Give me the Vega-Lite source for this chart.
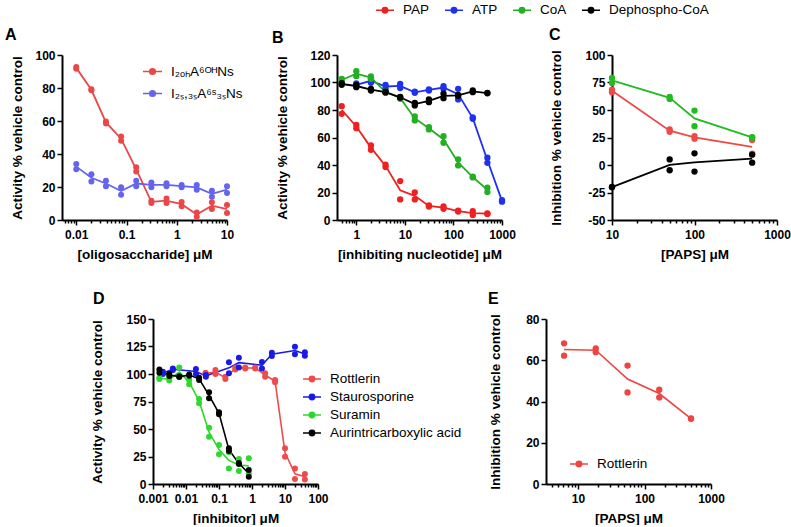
{
  "$schema": "https://vega.github.io/schema/vega-lite/v6.json",
  "padding": {"left": 5, "top": 0, "right": 0, "bottom": 0},
  "background": "white",
  "config": {
    "font": "Liberation Sans",
    "view": {"stroke": null},
    "axis": {"domainColor": "black", "domainWidth": 2, "tickColor": "black", "tickWidth": 1.5, "tickSize": 5, "labelColor": "black", "labelFont": "Liberation Sans", "labelFontWeight": "bold", "labelFontSize": 12, "titleFont": "Liberation Sans", "titleFontSize": 13.5, "titleFontWeight": "bold", "titleColor": "black", "grid": false, "labelFlush": false, "labelOverlap": false},
    "axisX": {"titlePadding": 7, "labelPadding": 4},
    "legend": {"symbolType": "M-1,0H1M-0.3,0A0.3,0.3,0,1,1,0.3,0A0.3,0.3,0,1,1,-0.3,0Z", "symbolSize": 324, "symbolStrokeWidth": 1.5, "labelFont": "Liberation Sans", "labelFontSize": 13.5, "labelColor": "black", "labelOffset": 8, "labelLimit": 300},
    "title": {"font": "Liberation Sans", "fontSize": 16, "fontWeight": "bold", "color": "black", "anchor": "start", "frame": "group", "offset": 6}
  },
  "datasets": {
    "a": [
      {"series": "I₂ₒₕA⁶ᴼᴴNs", "conc": 0.01, "value": 92.7}, {"series": "I₂ₒₕA⁶ᴼᴴNs", "conc": 0.01, "value": 91.7},
      {"series": "I₂ₒₕA⁶ᴼᴴNs", "conc": 0.02, "value": 79.2}, {"series": "I₂ₒₕA⁶ᴼᴴNs", "conc": 0.02, "value": 78.6},
      {"series": "I₂ₒₕA⁶ᴼᴴNs", "conc": 0.039, "value": 59.7}, {"series": "I₂ₒₕA⁶ᴼᴴNs", "conc": 0.039, "value": 58.5},
      {"series": "I₂ₒₕA⁶ᴼᴴNs", "conc": 0.078, "value": 50.6}, {"series": "I₂ₒₕA⁶ᴼᴴNs", "conc": 0.078, "value": 48},
      {"series": "I₂ₒₕA⁶ᴼᴴNs", "conc": 0.156, "value": 31.9}, {"series": "I₂ₒₕA⁶ᴼᴴNs", "conc": 0.156, "value": 29.4},
      {"series": "I₂ₒₕA⁶ᴼᴴNs", "conc": 0.3125, "value": 11.7}, {"series": "I₂ₒₕA⁶ᴼᴴNs", "conc": 0.3125, "value": 10.3},
      {"series": "I₂ₒₕA⁶ᴼᴴNs", "conc": 0.625, "value": 13.1}, {"series": "I₂ₒₕA⁶ᴼᴴNs", "conc": 0.625, "value": 10.3},
      {"series": "I₂ₒₕA⁶ᴼᴴNs", "conc": 1.25, "value": 10.9}, {"series": "I₂ₒₕA⁶ᴼᴴNs", "conc": 1.25, "value": 8.3},
      {"series": "I₂ₒₕA⁶ᴼᴴNs", "conc": 2.5, "value": 4.6}, {"series": "I₂ₒₕA⁶ᴼᴴNs", "conc": 2.5, "value": 2.0},
      {"series": "I₂ₒₕA⁶ᴼᴴNs", "conc": 5, "value": 10.7}, {"series": "I₂ₒₕA⁶ᴼᴴNs", "conc": 5, "value": 6.7},
      {"series": "I₂ₒₕA⁶ᴼᴴNs", "conc": 10, "value": 9.1}, {"series": "I₂ₒₕA⁶ᴼᴴNs", "conc": 10, "value": 4.2},
      {"series": "I₂ₛ,₃ₛA⁶ˢ₃ₛNs", "conc": 0.01, "value": 33.9}, {"series": "I₂ₛ,₃ₛA⁶ˢ₃ₛNs", "conc": 0.01, "value": 30.8},
      {"series": "I₂ₛ,₃ₛA⁶ˢ₃ₛNs", "conc": 0.02, "value": 27.8}, {"series": "I₂ₛ,₃ₛA⁶ˢ₃ₛNs", "conc": 0.02, "value": 23.4},
      {"series": "I₂ₛ,₃ₛA⁶ˢ₃ₛNs", "conc": 0.039, "value": 23.8}, {"series": "I₂ₛ,₃ₛA⁶ˢ₃ₛNs", "conc": 0.039, "value": 20.4},
      {"series": "I₂ₛ,₃ₛA⁶ˢ₃ₛNs", "conc": 0.078, "value": 19.8}, {"series": "I₂ₛ,₃ₛA⁶ˢ₃ₛNs", "conc": 0.078, "value": 15.3},
      {"series": "I₂ₛ,₃ₛA⁶ˢ₃ₛNs", "conc": 0.156, "value": 23.8}, {"series": "I₂ₛ,₃ₛA⁶ˢ₃ₛNs", "conc": 0.156, "value": 20.4},
      {"series": "I₂ₛ,₃ₛA⁶ˢ₃ₛNs", "conc": 0.3125, "value": 22.8}, {"series": "I₂ₛ,₃ₛA⁶ˢ₃ₛNs", "conc": 0.3125, "value": 19.8},
      {"series": "I₂ₛ,₃ₛA⁶ˢ₃ₛNs", "conc": 0.625, "value": 22.2}, {"series": "I₂ₛ,₃ₛA⁶ˢ₃ₛNs", "conc": 0.625, "value": 20.4},
      {"series": "I₂ₛ,₃ₛA⁶ˢ₃ₛNs", "conc": 1.25, "value": 21.2}, {"series": "I₂ₛ,₃ₛA⁶ˢ₃ₛNs", "conc": 1.25, "value": 19.8},
      {"series": "I₂ₛ,₃ₛA⁶ˢ₃ₛNs", "conc": 2.5, "value": 21.2}, {"series": "I₂ₛ,₃ₛA⁶ˢ₃ₛNs", "conc": 2.5, "value": 18.3},
      {"series": "I₂ₛ,₃ₛA⁶ˢ₃ₛNs", "conc": 5, "value": 17.7}, {"series": "I₂ₛ,₃ₛA⁶ˢ₃ₛNs", "conc": 5, "value": 14.1},
      {"series": "I₂ₛ,₃ₛA⁶ˢ₃ₛNs", "conc": 10, "value": 20.4}, {"series": "I₂ₛ,₃ₛA⁶ˢ₃ₛNs", "conc": 10, "value": 16.3}
    ],
    "b": [
      {"series": "PAP", "conc": 0.5, "value": 82.8}, {"series": "PAP", "conc": 0.5, "value": 77.2},
      {"series": "PAP", "conc": 1, "value": 69.2}, {"series": "PAP", "conc": 1, "value": 66.8},
      {"series": "PAP", "conc": 2, "value": 54.2}, {"series": "PAP", "conc": 2, "value": 51.1},
      {"series": "PAP", "conc": 4, "value": 40.2}, {"series": "PAP", "conc": 4, "value": 38.5},
      {"series": "PAP", "conc": 8, "value": 28.3}, {"series": "PAP", "conc": 8, "value": 15.0},
      {"series": "PAP", "conc": 16, "value": 20.1}, {"series": "PAP", "conc": 16, "value": 15.0},
      {"series": "PAP", "conc": 31.25, "value": 10.6}, {"series": "PAP", "conc": 31.25, "value": 9.8},
      {"series": "PAP", "conc": 62.5, "value": 9.8}, {"series": "PAP", "conc": 62.5, "value": 8.2},
      {"series": "PAP", "conc": 125, "value": 6.8}, {"series": "PAP", "conc": 125, "value": 6.2},
      {"series": "PAP", "conc": 250, "value": 6.5}, {"series": "PAP", "conc": 250, "value": 3.6},
      {"series": "PAP", "conc": 500, "value": 4.8}, {"series": "PAP", "conc": 500, "value": 4.4},
      {"series": "ATP", "conc": 1, "value": 99.3}, {"series": "ATP", "conc": 1, "value": 97.1},
      {"series": "ATP", "conc": 2, "value": 102.7}, {"series": "ATP", "conc": 2, "value": 99.8},
      {"series": "ATP", "conc": 4, "value": 98.3}, {"series": "ATP", "conc": 4, "value": 95.9},
      {"series": "ATP", "conc": 8, "value": 99}, {"series": "ATP", "conc": 8, "value": 96},
      {"series": "ATP", "conc": 16, "value": 93.3}, {"series": "ATP", "conc": 16, "value": 92.5},
      {"series": "ATP", "conc": 31.25, "value": 95}, {"series": "ATP", "conc": 31.25, "value": 94.2},
      {"series": "ATP", "conc": 62.5, "value": 97.3}, {"series": "ATP", "conc": 62.5, "value": 95.4},
      {"series": "ATP", "conc": 125, "value": 95.4}, {"series": "ATP", "conc": 125, "value": 87.7},
      {"series": "ATP", "conc": 250, "value": 74.6}, {"series": "ATP", "conc": 250, "value": 73.6},
      {"series": "ATP", "conc": 500, "value": 45.3}, {"series": "ATP", "conc": 500, "value": 41.6},
      {"series": "ATP", "conc": 1000, "value": 14.5}, {"series": "ATP", "conc": 1000, "value": 13.3},
      {"series": "CoA", "conc": 0.5, "value": 102.7}, {"series": "CoA", "conc": 0.5, "value": 101},
      {"series": "CoA", "conc": 1, "value": 108.2}, {"series": "CoA", "conc": 1, "value": 104.6},
      {"series": "CoA", "conc": 2, "value": 104.4}, {"series": "CoA", "conc": 2, "value": 102.7},
      {"series": "CoA", "conc": 4, "value": 93.5}, {"series": "CoA", "conc": 4, "value": 92.6},
      {"series": "CoA", "conc": 8, "value": 89.3}, {"series": "CoA", "conc": 8, "value": 88.1},
      {"series": "CoA", "conc": 16, "value": 75.3}, {"series": "CoA", "conc": 16, "value": 72.4},
      {"series": "CoA", "conc": 31.25, "value": 67.6}, {"series": "CoA", "conc": 31.25, "value": 65.9},
      {"series": "CoA", "conc": 62.5, "value": 61}, {"series": "CoA", "conc": 62.5, "value": 56.2},
      {"series": "CoA", "conc": 125, "value": 44.1}, {"series": "CoA", "conc": 125, "value": 39.7},
      {"series": "CoA", "conc": 250, "value": 31.5}, {"series": "CoA", "conc": 250, "value": 31},
      {"series": "CoA", "conc": 500, "value": 23.5}, {"series": "CoA", "conc": 500, "value": 20.3},
      {"series": "Dephospho-CoA", "conc": 0.5, "value": 99.5}, {"series": "Dephospho-CoA", "conc": 0.5, "value": 98.3},
      {"series": "Dephospho-CoA", "conc": 1, "value": 98.3}, {"series": "Dephospho-CoA", "conc": 1, "value": 96.6},
      {"series": "Dephospho-CoA", "conc": 2, "value": 95.4}, {"series": "Dephospho-CoA", "conc": 2, "value": 94.2},
      {"series": "Dephospho-CoA", "conc": 4, "value": 93.3}, {"series": "Dephospho-CoA", "conc": 4, "value": 92.8},
      {"series": "Dephospho-CoA", "conc": 8, "value": 89.5}, {"series": "Dephospho-CoA", "conc": 8, "value": 89},
      {"series": "Dephospho-CoA", "conc": 16, "value": 85.2}, {"series": "Dephospho-CoA", "conc": 16, "value": 83.3},
      {"series": "Dephospho-CoA", "conc": 31.25, "value": 87.7}, {"series": "Dephospho-CoA", "conc": 31.25, "value": 85.7},
      {"series": "Dephospho-CoA", "conc": 62.5, "value": 91.8}, {"series": "Dephospho-CoA", "conc": 62.5, "value": 88.6},
      {"series": "Dephospho-CoA", "conc": 125, "value": 91}, {"series": "Dephospho-CoA", "conc": 125, "value": 90.2},
      {"series": "Dephospho-CoA", "conc": 250, "value": 94.2}, {"series": "Dephospho-CoA", "conc": 250, "value": 93},
      {"series": "Dephospho-CoA", "conc": 500, "value": 92.5}, {"series": "Dephospho-CoA", "conc": 500, "value": 92.1}
    ],
    "c": [
      {"series": "PAP", "conc": 10, "value": 68.6}, {"series": "PAP", "conc": 10, "value": 66.2},
      {"series": "PAP", "conc": 50, "value": 32.3}, {"series": "PAP", "conc": 50, "value": 30.2},
      {"series": "PAP", "conc": 100, "value": 26.3}, {"series": "PAP", "conc": 100, "value": 23.9},
      {"series": "PAP", "conc": 500, "value": 22.7}, {"series": "PAP", "conc": 500, "value": 10.3},
      {"series": "CoA", "conc": 10, "value": 79.2}, {"series": "CoA", "conc": 10, "value": 74.6},
      {"series": "CoA", "conc": 50, "value": 61.9}, {"series": "CoA", "conc": 50, "value": 60.1},
      {"series": "CoA", "conc": 100, "value": 49.5}, {"series": "CoA", "conc": 100, "value": 35.3},
      {"series": "CoA", "conc": 500, "value": 25.4}, {"series": "CoA", "conc": 500, "value": 24.8},
      {"series": "Dephospho-CoA", "conc": 10, "value": -19.9}, {"series": "Dephospho-CoA", "conc": 10, "value": -20.3},
      {"series": "Dephospho-CoA", "conc": 50, "value": 5.1}, {"series": "Dephospho-CoA", "conc": 50, "value": -4.8},
      {"series": "Dephospho-CoA", "conc": 100, "value": 10.6}, {"series": "Dephospho-CoA", "conc": 100, "value": -6.0},
      {"series": "Dephospho-CoA", "conc": 500, "value": 9.4}, {"series": "Dephospho-CoA", "conc": 500, "value": 2.1}
    ],
    "d": [
      {"series": "Rottlerin", "conc": 0.039, "value": 101.2}, {"series": "Rottlerin", "conc": 0.039, "value": 100},
      {"series": "Rottlerin", "conc": 0.078, "value": 103.6}, {"series": "Rottlerin", "conc": 0.078, "value": 100},
      {"series": "Rottlerin", "conc": 0.156, "value": 97.6}, {"series": "Rottlerin", "conc": 0.156, "value": 95.5},
      {"series": "Rottlerin", "conc": 0.3125, "value": 105.8}, {"series": "Rottlerin", "conc": 0.3125, "value": 104.2},
      {"series": "Rottlerin", "conc": 0.625, "value": 105.8}, {"series": "Rottlerin", "conc": 0.625, "value": 105},
      {"series": "Rottlerin", "conc": 1.25, "value": 106}, {"series": "Rottlerin", "conc": 1.25, "value": 105},
      {"series": "Rottlerin", "conc": 2.5, "value": 100.6}, {"series": "Rottlerin", "conc": 2.5, "value": 97.6},
      {"series": "Rottlerin", "conc": 5, "value": 94.5}, {"series": "Rottlerin", "conc": 5, "value": 92.4},
      {"series": "Rottlerin", "conc": 10, "value": 32.4}, {"series": "Rottlerin", "conc": 10, "value": 24.8},
      {"series": "Rottlerin", "conc": 20, "value": 14.2}, {"series": "Rottlerin", "conc": 20, "value": 4.5},
      {"series": "Rottlerin", "conc": 40, "value": 9.1}, {"series": "Rottlerin", "conc": 40, "value": 4.2},
      {"series": "Staurosporine", "conc": 0.002, "value": 102}, {"series": "Staurosporine", "conc": 0.002, "value": 100},
      {"series": "Staurosporine", "conc": 0.004, "value": 105}, {"series": "Staurosporine", "conc": 0.004, "value": 103.6},
      {"series": "Staurosporine", "conc": 0.02, "value": 104.5}, {"series": "Staurosporine", "conc": 0.02, "value": 100},
      {"series": "Staurosporine", "conc": 0.04, "value": 99}, {"series": "Staurosporine", "conc": 0.04, "value": 97.5},
      {"series": "Staurosporine", "conc": 0.2, "value": 110.6}, {"series": "Staurosporine", "conc": 0.2, "value": 100.6},
      {"series": "Staurosporine", "conc": 0.4, "value": 114.8}, {"series": "Staurosporine", "conc": 0.4, "value": 105.8},
      {"series": "Staurosporine", "conc": 2, "value": 111}, {"series": "Staurosporine", "conc": 2, "value": 105},
      {"series": "Staurosporine", "conc": 4, "value": 119.4}, {"series": "Staurosporine", "conc": 4, "value": 116.4},
      {"series": "Staurosporine", "conc": 20, "value": 124.8}, {"series": "Staurosporine", "conc": 20, "value": 117.9},
      {"series": "Staurosporine", "conc": 40, "value": 119.7}, {"series": "Staurosporine", "conc": 40, "value": 116.7},
      {"series": "Suramin", "conc": 0.0015625, "value": 96.7}, {"series": "Suramin", "conc": 0.0015625, "value": 95.5},
      {"series": "Suramin", "conc": 0.003125, "value": 96.7}, {"series": "Suramin", "conc": 0.003125, "value": 94},
      {"series": "Suramin", "conc": 0.00625, "value": 105.8}, {"series": "Suramin", "conc": 0.00625, "value": 97.6},
      {"series": "Suramin", "conc": 0.0125, "value": 94.5}, {"series": "Suramin", "conc": 0.0125, "value": 90.6},
      {"series": "Suramin", "conc": 0.025, "value": 77.3}, {"series": "Suramin", "conc": 0.025, "value": 73.3},
      {"series": "Suramin", "conc": 0.05, "value": 51.2}, {"series": "Suramin", "conc": 0.05, "value": 43},
      {"series": "Suramin", "conc": 0.1, "value": 35.5}, {"series": "Suramin", "conc": 0.1, "value": 27},
      {"series": "Suramin", "conc": 0.2, "value": 28.8}, {"series": "Suramin", "conc": 0.2, "value": 14.2},
      {"series": "Suramin", "conc": 0.4, "value": 22.7}, {"series": "Suramin", "conc": 0.4, "value": 11.8},
      {"series": "Suramin", "conc": 0.8, "value": 23.3}, {"series": "Suramin", "conc": 0.8, "value": 9.7},
      {"series": "Aurintricarboxylic acid", "conc": 0.0015625, "value": 104.2}, {"series": "Aurintricarboxylic acid", "conc": 0.0015625, "value": 101.2},
      {"series": "Aurintricarboxylic acid", "conc": 0.003125, "value": 100}, {"series": "Aurintricarboxylic acid", "conc": 0.003125, "value": 98.2},
      {"series": "Aurintricarboxylic acid", "conc": 0.00625, "value": 98}, {"series": "Aurintricarboxylic acid", "conc": 0.00625, "value": 97.2},
      {"series": "Aurintricarboxylic acid", "conc": 0.0125, "value": 99.5}, {"series": "Aurintricarboxylic acid", "conc": 0.0125, "value": 98.5},
      {"series": "Aurintricarboxylic acid", "conc": 0.025, "value": 96.7}, {"series": "Aurintricarboxylic acid", "conc": 0.025, "value": 94.5},
      {"series": "Aurintricarboxylic acid", "conc": 0.05, "value": 83.3}, {"series": "Aurintricarboxylic acid", "conc": 0.05, "value": 77.9},
      {"series": "Aurintricarboxylic acid", "conc": 0.1, "value": 65.2}, {"series": "Aurintricarboxylic acid", "conc": 0.1, "value": 63.3},
      {"series": "Aurintricarboxylic acid", "conc": 0.2, "value": 32.4}, {"series": "Aurintricarboxylic acid", "conc": 0.2, "value": 30},
      {"series": "Aurintricarboxylic acid", "conc": 0.4, "value": 19.2}, {"series": "Aurintricarboxylic acid", "conc": 0.4, "value": 18.2},
      {"series": "Aurintricarboxylic acid", "conc": 0.8, "value": 12.7}, {"series": "Aurintricarboxylic acid", "conc": 0.8, "value": 6.5}
    ],
    "e": [
      {"series": "Rottlerin", "conc": 6.17, "value": 68.2}, {"series": "Rottlerin", "conc": 6.17, "value": 62.2},
      {"series": "Rottlerin", "conc": 18.5, "value": 65.8}, {"series": "Rottlerin", "conc": 18.5, "value": 63.9},
      {"series": "Rottlerin", "conc": 55.6, "value": 57.4}, {"series": "Rottlerin", "conc": 55.6, "value": 44.4},
      {"series": "Rottlerin", "conc": 166.7, "value": 45.7}, {"series": "Rottlerin", "conc": 166.7, "value": 42},
      {"series": "Rottlerin", "conc": 500, "value": 31.8}, {"series": "Rottlerin", "conc": 500, "value": 31.6}
    ]
  },
  "vconcat": [
    {
      "hconcat": [
        {
          "width": 165, "height": 165,
          "title": {"text": "A", "dx": -57},
          "data": {"name": "a"},
          "encoding": {
            "x": {"field": "conc", "type": "quantitative", "scale": {"type": "log", "domain": [0.0052, 10], "nice": false},
                  "axis": {"title": "[oligosaccharide] μM", "values": [0.006,0.007,0.008,0.009,0.01,0.02,0.03,0.04,0.05,0.06,0.07,0.08,0.09,0.1,0.2,0.3,0.4,0.5,0.6,0.7,0.8,0.9,1,2,3,4,5,6,7,8,9,10],
                           "labelExpr": "abs(log(datum.value)/LN10-round(log(datum.value)/LN10))<0.000001 ? format(datum.value,'~g') : ''",
                           "tickSize": {"condition": {"test": "abs(log(datum.value)/LN10-round(log(datum.value)/LN10))<0.000001", "value": 5}, "value": 3}}},
            "color": {"field": "series", "type": "nominal",
                      "scale": {"domain": ["I₂ₒₕA⁶ᴼᴴNs", "I₂ₛ,₃ₛA⁶ˢ₃ₛNs"], "range": ["#E84848", "#6464EE"]},
                      "legend": {"title": null, "orient": "none", "legendX": 80, "legendY": 6, "rowPadding": 5, "symbolSize": 361}}
          },
          "layer": [
            {"mark": {"type": "line", "strokeWidth": 1.8},
             "encoding": {"y": {"aggregate": "mean", "field": "value", "type": "quantitative", "scale": {"domain": [0, 100], "nice": false}, "axis": {"title": "Activity % vehicle control", "titlePadding": 10, "values": [0,20,40,60,80,100]}}}},
            {"mark": {"type": "point", "filled": true, "size": 36, "opacity": 1},
             "encoding": {"y": {"field": "value", "type": "quantitative", "scale": {"domain": [0, 100], "nice": false}, "axis": {"title": "Activity % vehicle control", "titlePadding": 10, "values": [0,20,40,60,80,100]}}}}
          ]
        },
        {
          "width": 165, "height": 165,
          "title": {"text": "B", "dx": -65, "dy": 52},
          "data": {"name": "b"},
          "encoding": {
            "x": {"field": "conc", "type": "quantitative", "scale": {"type": "log", "domain": [0.4, 1000], "nice": false},
                  "axis": {"title": "[inhibiting nucleotide] μM", "values": [0.5,0.6,0.7,0.8,0.9,1,2,3,4,5,6,7,8,9,10,20,30,40,50,60,70,80,90,100,200,300,400,500,600,700,800,900,1000],
                           "labelExpr": "abs(log(datum.value)/LN10-round(log(datum.value)/LN10))<0.000001 ? format(datum.value,'~g') : ''",
                           "tickSize": {"condition": {"test": "abs(log(datum.value)/LN10-round(log(datum.value)/LN10))<0.000001", "value": 5}, "value": 3}}},
            "color": {"field": "series", "type": "nominal",
                      "scale": {"domain": ["PAP", "ATP", "CoA", "Dephospho-CoA"], "range": ["#EE2020", "#1E32EE", "#22B022", "#000000"]},
                      "legend": {"title": null, "orient": "none", "direction": "horizontal", "legendX": 38, "legendY": -55, "columnPadding": 12}}
          },
          "layer": [
            {"mark": {"type": "line", "strokeWidth": 1.8},
             "encoding": {"y": {"aggregate": "mean", "field": "value", "type": "quantitative", "scale": {"domain": [0, 120], "nice": false}, "axis": {"title": "Activity % vehicle control", "titlePadding": 20, "values": [0,20,40,60,80,100,120]}}}},
            {"mark": {"type": "point", "filled": true, "size": 40, "opacity": 1},
             "encoding": {"y": {"field": "value", "type": "quantitative", "scale": {"domain": [0, 120], "nice": false}, "axis": {"title": "Activity % vehicle control", "titlePadding": 20, "values": [0,20,40,60,80,100,120]}}}}
          ]
        },
        {
          "width": 165, "height": 165,
          "title": {"text": "C", "dx": -63},
          "data": {"name": "c"},
          "encoding": {
            "x": {"field": "conc", "type": "quantitative", "scale": {"type": "log", "domain": [10, 1000], "nice": false},
                  "axis": {"title": "[PAPS] μM", "values": [10,20,30,40,50,60,70,80,90,100,200,300,400,500,600,700,800,900,1000],
                           "labelExpr": "abs(log(datum.value)/LN10-round(log(datum.value)/LN10))<0.000001 ? format(datum.value,'~g') : ''",
                           "tickSize": {"condition": {"test": "abs(log(datum.value)/LN10-round(log(datum.value)/LN10))<0.000001", "value": 5}, "value": 3}}},
            "color": {"field": "series", "type": "nominal",
                      "scale": {"domain": ["PAP", "ATP", "CoA", "Dephospho-CoA"], "range": ["#EE4A4A", "#1E32EE", "#22BB22", "#000000"]},
                      "legend": null}
          },
          "layer": [
            {"mark": {"type": "line", "strokeWidth": 1.8},
             "encoding": {"y": {"aggregate": "mean", "field": "value", "type": "quantitative", "scale": {"domain": [-50, 100], "nice": false}, "axis": {"title": "Inhibition % vehicle control", "titlePadding": 21, "values": [-50,-25,0,25,50,75,100], "labelExpr": "'' + datum.value"}}}},
            {"mark": {"type": "point", "filled": true, "size": 40, "opacity": 1},
             "encoding": {"y": {"field": "value", "type": "quantitative", "scale": {"domain": [-50, 100], "nice": false}, "axis": {"title": "Inhibition % vehicle control", "titlePadding": 21, "values": [-50,-25,0,25,50,75,100], "labelExpr": "'' + datum.value"}}}}
          ]
        }
      ],
      "spacing": 110,
      "bounds": "flush",
      "resolve": {"scale": {"color": "independent"}, "legend": {"color": "independent"}}
    },
    {
      "hconcat": [
        {"width": 91, "height": 10, "data": {"values": []}, "mark": "point"},
        {
          "hconcat": [
            {
              "width": 165, "height": 165,
              "title": {"text": "D", "dx": -60},
              "data": {"name": "d"},
              "encoding": {
                "x": {"field": "conc", "type": "quantitative", "scale": {"type": "log", "domain": [0.001, 100], "nice": false},
                      "axis": {"title": "[inhibitor] μM", "values": [0.001,0.002,0.003,0.004,0.005,0.006,0.007,0.008,0.009,0.01,0.02,0.03,0.04,0.05,0.06,0.07,0.08,0.09,0.1,0.2,0.3,0.4,0.5,0.6,0.7,0.8,0.9,1,2,3,4,5,6,7,8,9,10,20,30,40,50,60,70,80,90,100],
                               "labelExpr": "abs(log(datum.value)/LN10-round(log(datum.value)/LN10))<0.000001 ? format(datum.value,'~g') : ''",
                               "tickSize": {"condition": {"test": "abs(log(datum.value)/LN10-round(log(datum.value)/LN10))<0.000001", "value": 5}, "value": 3}}},
                "color": {"field": "series", "type": "nominal",
                          "scale": {"domain": ["Rottlerin", "Staurosporine", "Suramin", "Aurintricarboxylic acid"], "range": ["#EE4B4B", "#1A1AE6", "#2ED82E", "#000000"]},
                          "legend": {"title": null, "orient": "none", "legendX": 149, "legendY": 50, "rowPadding": 1}}
              },
              "layer": [
                {"mark": {"type": "line", "strokeWidth": 1.6},
                 "encoding": {"y": {"aggregate": "mean", "field": "value", "type": "quantitative", "scale": {"domain": [0, 150], "nice": false}, "axis": {"title": "Activity % vehicle control", "titlePadding": 21, "values": [0,25,50,75,100,125,150]}}}},
                {"mark": {"type": "point", "filled": true, "size": 36, "opacity": 1},
                 "encoding": {"y": {"field": "value", "type": "quantitative", "scale": {"domain": [0, 150], "nice": false}, "axis": {"title": "Activity % vehicle control", "titlePadding": 21, "values": [0,25,50,75,100,125,150]}}}}
              ]
            },
            {
              "width": 165, "height": 165,
              "title": {"text": "E", "dx": -58},
              "data": {"name": "e"},
              "encoding": {
                "x": {"field": "conc", "type": "quantitative", "scale": {"type": "log", "domain": [3.3, 1000], "nice": false},
                      "axis": {"title": "[PAPS] μM", "values": [4,5,6,7,8,9,10,20,30,40,50,60,70,80,90,100,200,300,400,500,600,700,800,900,1000],
                               "labelExpr": "abs(log(datum.value)/LN10-round(log(datum.value)/LN10))<0.000001 ? format(datum.value,'~g') : ''",
                               "tickSize": {"condition": {"test": "abs(log(datum.value)/LN10-round(log(datum.value)/LN10))<0.000001", "value": 5}, "value": 3}}},
                "color": {"field": "series", "type": "nominal",
                          "scale": {"domain": ["Rottlerin"], "range": ["#EE4444"]},
                          "legend": {"title": null, "orient": "none", "legendX": 23, "legendY": 135}}
              },
              "layer": [
                {"mark": {"type": "line", "strokeWidth": 1.6},
                 "encoding": {"y": {"aggregate": "mean", "field": "value", "type": "quantitative", "scale": {"domain": [0, 80], "nice": false}, "axis": {"title": "Inhibition % vehicle control", "titlePadding": 23, "values": [0,20,40,60,80]}}}},
                {"mark": {"type": "point", "filled": true, "size": 40, "opacity": 1},
                 "encoding": {"y": {"field": "value", "type": "quantitative", "scale": {"domain": [0, 80], "nice": false}, "axis": {"title": "Inhibition % vehicle control", "titlePadding": 23, "values": [0,20,40,60,80]}}}}
              ]
            }
          ],
          "spacing": 228,
          "bounds": "flush",
          "resolve": {"scale": {"color": "independent"}, "legend": {"color": "independent"}}
        }
      ],
      "spacing": 0,
      "bounds": "flush",
      "resolve": {"scale": {"color": "independent"}, "legend": {"color": "independent"}}
    }
  ],
  "spacing": 30,
  "bounds": "full",
  "resolve": {"scale": {"color": "independent"}, "legend": {"color": "independent"}}
}
